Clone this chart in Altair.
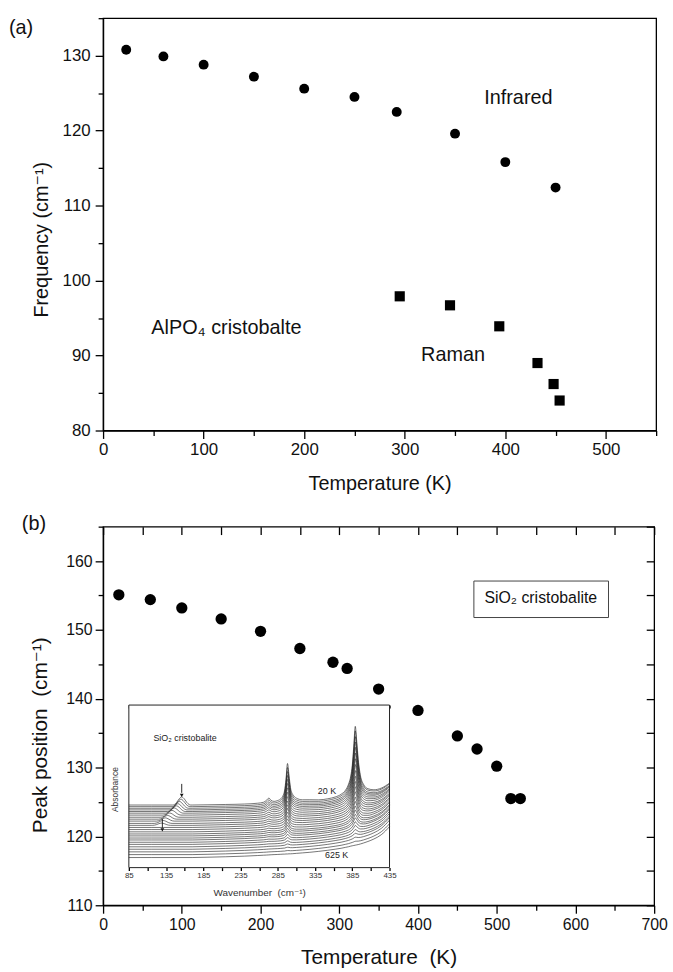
import altair as alt
import pandas as pd

FONT = "Liberation Sans, Arial, DejaVu Sans, sans-serif"
INK = "#111111"

# ---------------- Panel (a): AlPO4 cristobalite ----------------
ir_temp = [23, 60, 100, 150, 200, 250, 292, 350, 400, 450]
ir_freq = [130.8, 129.9, 128.8, 127.2, 125.6, 124.5, 122.5, 119.6, 115.8, 112.4]
raman_temp = [295, 345, 394, 432, 448, 454]
raman_freq = [97.9, 96.7, 93.9, 89.0, 86.2, 84.0]

a_x_major = [0, 100, 200, 300, 400, 500]
a_x_minor = [50, 150, 250, 350, 450, 550]
a_y_major = [80, 90, 100, 110, 120, 130]
a_y_minor = [85, 95, 105, 115, 125, 135]

a_text = ["Infrared", "AlPO\u2084 cristobalte", "Raman"]
a_text_temp = [413, 48, 348]
a_text_freq = [124.4, 93.6, 90.1]
a_text_align = ["center", "left", "center"]

# ---------------- Panel (b): SiO2 cristobalite ----------------
sio2_temp = [20, 60, 100, 150, 200, 250, 292, 310, 350, 400, 450, 475, 500, 518, 530]
sio2_peak = [155.1, 154.4, 153.2, 151.6, 149.8, 147.3, 145.3, 144.4, 141.4, 138.3,
             134.6, 132.7, 130.2, 125.5, 125.5]

b_x_major = [0, 100, 200, 300, 400, 500, 600, 700]
b_x_minor = [50, 150, 250, 350, 450, 550, 650]
b_x_all = [0, 50, 100, 150, 200, 250, 300, 350, 400, 450, 500, 550, 600, 650, 700]
b_y_major = [110, 120, 130, 140, 150, 160]
b_y_minor = [115, 125, 135, 145, 155, 165]
b_y_all = [110, 115, 120, 125, 130, 135, 140, 145, 150, 155, 160, 165]

legend_box_temp = [471, 642]
legend_box_peak = [151.8, 157.1]

# ---------------- Inset: far-IR spectra ----------------
wn_grid = [85, 100, 115, 170, 190, 215, 240, 258, 266, 270, 273, 276, 280, 285, 289, 292,
           294, 296, 298, 300, 302, 305, 310, 318, 328, 340, 352, 362, 370, 376, 380, 383,
           385, 387, 389, 391, 393, 396, 400, 406, 414, 424, 435]
rise_shape = [0, 0, 0, 0, 0.01, 0.025, 0.045, 0.065, 0.075, 0.08, 0.085, 0.09, 0.095, 0.1,
              0.105, 0.11, 0.11, 0.115, 0.115, 0.12, 0.12, 0.125, 0.135, 0.15, 0.17, 0.2,
              0.235, 0.27, 0.3, 0.33, 0.35, 0.37, 0.38, 0.39, 0.4, 0.41, 0.42, 0.44, 0.47,
              0.52, 0.6, 0.74, 1.0]
peak_a_shape = [0, 0, 0, 0, 0, 0, 0, 0.01, 0.03, 0.08, 0.13, 0.07, 0.04, 0.06, 0.1, 0.18,
                0.3, 0.6, 1.0, 0.7, 0.38, 0.2, 0.1, 0.05, 0.04, 0.02, 0.01,
                0, 0, 0, 0, 0, 0, 0, 0, 0, 0, 0, 0, 0, 0, 0, 0]
peak_b_shape = [0, 0, 0, 0, 0, 0, 0, 0, 0, 0, 0, 0, 0, 0, 0, 0, 0, 0, 0, 0, 0, 0, 0, 0, 0,
                0, 0.01, 0.03, 0.06, 0.11, 0.19, 0.3, 0.45, 0.72, 1.0, 0.78, 0.52, 0.28,
                0.15, 0.07, 0.03, 0.01, 0]

curve_offset = [0.385, 0.375, 0.365, 0.355, 0.345, 0.335, 0.323, 0.31, 0.298, 0.286, 0.272,
                0.26, 0.247, 0.234, 0.22, 0.207, 0.195, 0.182, 0.17, 0.156, 0.143, 0.128,
                0.113, 0.097, 0.08, 0.062]
curve_rise = [0.135, 0.14, 0.14, 0.145, 0.15, 0.15, 0.155, 0.16, 0.16, 0.165, 0.17, 0.17,
              0.175, 0.175, 0.18, 0.18, 0.185, 0.185, 0.19, 0.19, 0.19, 0.19, 0.195, 0.195,
              0.19, 0.19]
curve_amp_a = [0.24, 0.225, 0.21, 0.195, 0.18, 0.165, 0.15, 0.135, 0.12, 0.105, 0.095, 0.085,
               0.075, 0.065, 0.058, 0.05, 0.044, 0.038, 0.032, 0.026, 0.02, 0.015, 0.01,
               0.006, 0.003, 0.0]
curve_amp_b = [0.43, 0.41, 0.385, 0.36, 0.335, 0.31, 0.285, 0.26, 0.235, 0.21, 0.19, 0.17,
               0.15, 0.13, 0.115, 0.1, 0.085, 0.072, 0.06, 0.05, 0.04, 0.03, 0.02, 0.012,
               0.006, 0.0]
low_center = [156, 155, 153, 151, 149, 146, 143, 140, 137, 134, 131, 129,
              0, 0, 0, 0, 0, 0, 0, 0, 0, 0, 0, 0, 0, 0]
low_amp = [0.05, 0.046, 0.042, 0.038, 0.035, 0.032, 0.029, 0.026, 0.023, 0.02, 0.018, 0.014,
           0, 0, 0, 0, 0, 0, 0, 0, 0, 0, 0, 0, 0, 0]
low_offsets = [-12, -7, -3.5, 0, 3.5, 7, 12]
low_shape = [0, 0.3, 0.75, 1, 0.75, 0.3, 0]

arrow_wn = [156, 130]
arrow_top = [0.515, 0.30]
arrow_bottom = [0.46, 0.245]
arrow_head = [0.445, 0.232]

inset_text = ["SiO\u2082 cristobalite", "20 K", "625 K"]
inset_text_wn = [118, 351, 364]
inset_text_abs = [0.80, 0.47, 0.08]
inset_text_align = ["left", "center", "center"]
inset_ticks = [85, 110, 135, 160, 185, 210, 235, 260, 285, 310, 335, 360, 385, 410, 435]

# ---------------- sizes ----------------
W_A, H_A = 558, 416
W_B, H_B = 556, 382

# ---------------- tables ----------------
df_ir = pd.DataFrame({"T": ir_temp, "f": ir_freq})
df_raman = pd.DataFrame({"T": raman_temp, "f": raman_freq})
df_atext = pd.DataFrame({"T": a_text_temp, "f": a_text_freq, "t": a_text, "al": a_text_align})
df_sio2 = pd.DataFrame({"T": sio2_temp, "P": sio2_peak})
df_box = pd.DataFrame({"T1": [legend_box_temp[0]], "T2": [legend_box_temp[1]],
                       "P1": [legend_box_peak[0]], "P2": [legend_box_peak[1]]})

rows = []
for c in range(len(curve_offset)):
    for i, w in enumerate(wn_grid):
        a = (curve_offset[c] + curve_rise[c] * rise_shape[i]
             + curve_amp_a[c] * peak_a_shape[i] + curve_amp_b[c] * peak_b_shape[i])
        rows.append({"c": c, "wn": w, "a": a})
    if low_amp[c] > 0:
        for d, s in zip(low_offsets, low_shape):
            rows.append({"c": c, "wn": low_center[c] + d, "a": curve_offset[c] + low_amp[c] * s})
df_spec = pd.DataFrame(rows)
df_arrow = pd.DataFrame({"wn": arrow_wn, "y1": arrow_top, "y2": arrow_bottom, "h": arrow_head})
df_itext = pd.DataFrame({"wn": inset_text_wn, "a": inset_text_abs, "t": inset_text, "al": inset_text_align})
df_iframe = pd.DataFrame({"x1": [85], "x2": [435], "y1": [0], "y2": [1]})

# ---------------- scales ----------------
xa = alt.Scale(domain=[0, 550], nice=False, zero=False)
ya = alt.Scale(domain=[80, 135], nice=False, zero=False)
xb = alt.Scale(domain=[0, 700], nice=False, zero=False)
yb = alt.Scale(domain=[110, 165], nice=False, zero=False)
xi = alt.Scale(domain=[85, 435], range=[26, 289], nice=False, zero=False)
yi = alt.Scale(domain=[0, 1], range=[344, 180], nice=False, zero=False)


def axis(orient, values, tick=8, labels=True, label_size=16, title=None, title_size=20,
         title_x=None, title_y=None, offset=None, domain=True, label_pad=3,
         label_expr=None, color=INK, title_color=INK):
    kw = dict(orient=orient, values=values, tickSize=tick, labels=labels, domain=domain,
              grid=False, ticks=True, labelOverlap=False, labelFlush=False,
              tickColor="black", domainColor="black")
    if labels:
        kw.update(labelFontSize=label_size, labelPadding=label_pad, labelColor=color,
                  labelFont=FONT)
    if label_expr:
        kw["labelExpr"] = label_expr
    if title:
        kw.update(title=title, titleFontSize=title_size, titleFontWeight="normal",
                  titleFont=FONT, titleColor=title_color, titleBaseline="middle")
        if title_x is not None:
            kw["titleX"] = title_x
        if title_y is not None:
            kw["titleY"] = title_y
    else:
        kw["title"] = None
    if offset is not None:
        kw["offset"] = offset
    return alt.Axis(**kw)


def txt(size, color=INK, **kw):
    return dict(font=FONT, fontSize=size, color=color, **kw)

# ---------------- Panel (a) ----------------
a_pts = alt.Chart(df_ir).mark_circle(size=100, color="black", opacity=1).encode(
    x=alt.X("T:Q", scale=xa, axis=axis("bottom", a_x_major, label_size=17, label_pad=3,
                                       title="Temperature (K)", title_y=54)),
    y=alt.Y("f:Q", scale=ya, axis=axis("left", a_y_major, label_size=17, label_pad=5,
                                       title="Frequency (cm\u207b\u00b9)", title_x=-62, title_y=223)),
)
a_minor = alt.Chart(df_ir).mark_circle(opacity=0).encode(
    x=alt.X("T:Q", scale=xa, axis=axis("bottom", a_x_minor, tick=5, labels=False, domain=False)),
    y=alt.Y("f:Q", scale=ya, axis=axis("left", a_y_minor, tick=5, labels=False, domain=False)),
)
a_sq = alt.Chart(df_raman).mark_square(size=105, color="black", opacity=1).encode(
    x=alt.X("T:Q", scale=xa, axis=None), y=alt.Y("f:Q", scale=ya, axis=None))
a_txt_layers = []
for al in ["center", "left"]:
    a_txt_layers.append(
        alt.Chart(df_atext[df_atext["al"] == al]).mark_text(**txt(20, align=al, baseline="middle")).encode(
            x=alt.X("T:Q", scale=xa, axis=None), y=alt.Y("f:Q", scale=ya, axis=None), text="t:N"))
a_label = alt.Chart(pd.DataFrame({"t": ["(a)"]})).mark_text(**txt(20, align="left", baseline="middle")).encode(
    x=alt.value(-95), y=alt.value(10), text="t:N")

panel_a = alt.layer(a_pts, a_minor, a_sq, *a_txt_layers, a_label).resolve_axis(
    x="independent", y="independent").properties(width=W_A, height=H_A)

# ---------------- Panel (b) main ----------------
b_pts = alt.Chart(df_sio2).mark_circle(size=130, color="black", opacity=1).encode(
    x=alt.X("T:Q", scale=xb, axis=axis("bottom", b_x_major, label_size=16, label_pad=3,
                                       title="Temperature\u00a0 (K)", title_size=21, title_y=53)),
    y=alt.Y("P:Q", scale=yb, axis=axis("left", b_y_major, label_size=16, label_pad=3,
                                       title="Peak position\u00a0 (cm\u207b\u00b9)", title_size=21,
                                       title_x=-63, title_y=210)),
)
b_minor = alt.Chart(df_sio2).mark_circle(opacity=0).encode(
    x=alt.X("T:Q", scale=xb, axis=axis("bottom", b_x_minor, tick=5, labels=False, domain=False)),
    y=alt.Y("P:Q", scale=yb, axis=axis("left", b_y_minor, tick=5, labels=False, domain=False)),
)
b_inward = alt.Chart(df_sio2).mark_circle(opacity=0).encode(
    x=alt.X("T:Q", scale=xb, axis=axis("bottom", b_x_all, tick=8, labels=False, domain=False,
                                       offset=-H_B)),
    y=alt.Y("P:Q", scale=yb, axis=axis("left", b_y_all, tick=8, labels=False, domain=False,
                                       offset=-W_B)),
)
b_box = alt.Chart(df_box).mark_rect(fill="white", stroke="#444", strokeWidth=1).encode(
    x=alt.X("T1:Q", scale=xb, axis=None), x2="T2:Q",
    y=alt.Y("P1:Q", scale=yb, axis=None), y2="P2:Q")
b_box_text = alt.Chart(pd.DataFrame({"T": [556], "P": [154.7], "t": ["SiO\u2082 cristobalite"]})).mark_text(
    **txt(16, align="center", baseline="middle")).encode(
    x=alt.X("T:Q", scale=xb, axis=None), y=alt.Y("P:Q", scale=yb, axis=None), text="t:N")
b_label = alt.Chart(pd.DataFrame({"t": ["(b)"]})).mark_text(**txt(20, align="left", baseline="middle")).encode(
    x=alt.value(-82), y=alt.value(-3), text="t:N")

b_main = alt.layer(b_pts, b_minor, b_inward, b_box, b_box_text, b_label).resolve_axis(
    x="independent", y="independent")

# ---------------- Inset ----------------
i_frame = alt.Chart(df_iframe).mark_rect(fill="white", stroke="#222", strokeWidth=1).encode(
    x=alt.X("x1:Q", scale=xi, axis=axis("bottom", inset_ticks, tick=3, label_size=8, label_pad=1,
                                        domain=False, offset=-(H_B - 344),
                                        label_expr="(datum.value - 85) % 50 === 0 ? datum.label : ''",
                                        title="Wavenumber\u00a0 (cm\u207b\u00b9)", title_size=10,
                                        title_y=25, color="#333", title_color="#333")),
    x2="x2:Q",
    y=alt.Y("y1:Q", scale=yi, axis=None), y2="y2:Q")
i_top = alt.Chart(df_iframe).mark_point(opacity=0).encode(
    x=alt.X("x1:Q", scale=xi, axis=axis("bottom", inset_ticks, tick=3, labels=False, domain=False,
                                        offset=-(H_B - 180))),
    y=alt.Y("y1:Q", scale=yi, axis=None))
i_lines = alt.Chart(df_spec).mark_line(color="#1a1a1a", strokeWidth=0.6, interpolate="monotone").encode(
    x=alt.X("wn:Q", scale=xi, axis=None), y=alt.Y("a:Q", scale=yi, axis=None),
    detail="c:N", order="wn:Q")
i_shaft = alt.Chart(df_arrow).mark_rule(color="#111", strokeWidth=0.9).encode(
    x=alt.X("wn:Q", scale=xi, axis=None), y=alt.Y("y1:Q", scale=yi, axis=None), y2="y2:Q")
i_head = alt.Chart(df_arrow).mark_point(shape="triangle-down", filled=True, size=14,
                                       color="#111", opacity=1).encode(
    x=alt.X("wn:Q", scale=xi, axis=None), y=alt.Y("h:Q", scale=yi, axis=None))
i_txt_layers = []
for al in ["left", "center"]:
    i_txt_layers.append(
        alt.Chart(df_itext[df_itext["al"] == al]).mark_text(**txt(9, color="#222", align=al, baseline="middle")).encode(
            x=alt.X("wn:Q", scale=xi, axis=None), y=alt.Y("a:Q", scale=yi, axis=None), text="t:N"))
i_ylab = alt.Chart(pd.DataFrame({"wn": [66], "a": [0.48], "t": ["Absorbance"]})).mark_text(
    **txt(8.5, color="#333", align="center", baseline="middle", angle=270)).encode(
    x=alt.X("wn:Q", scale=xi, axis=None), y=alt.Y("a:Q", scale=yi, axis=None), text="t:N")

inset = alt.layer(i_frame, i_top, i_lines, i_shaft, i_head, *i_txt_layers, i_ylab).resolve_axis(
    x="independent", y="independent")

panel_b = alt.layer(b_main, inset).resolve_scale(
    x="independent", y="independent").properties(width=W_B, height=H_B)

chart = alt.vconcat(panel_a, panel_b, spacing=97, bounds="flush").properties(
    padding={"left": 8, "top": 12, "right": 5, "bottom": 2},
    background="white",
).configure_view(stroke="black", strokeWidth=1.3).configure_axis(
    domainWidth=1.3, tickWidth=1.3, grid=False
)

chart.save("out.html", embed_options={"renderer": "svg", "actions": False})
